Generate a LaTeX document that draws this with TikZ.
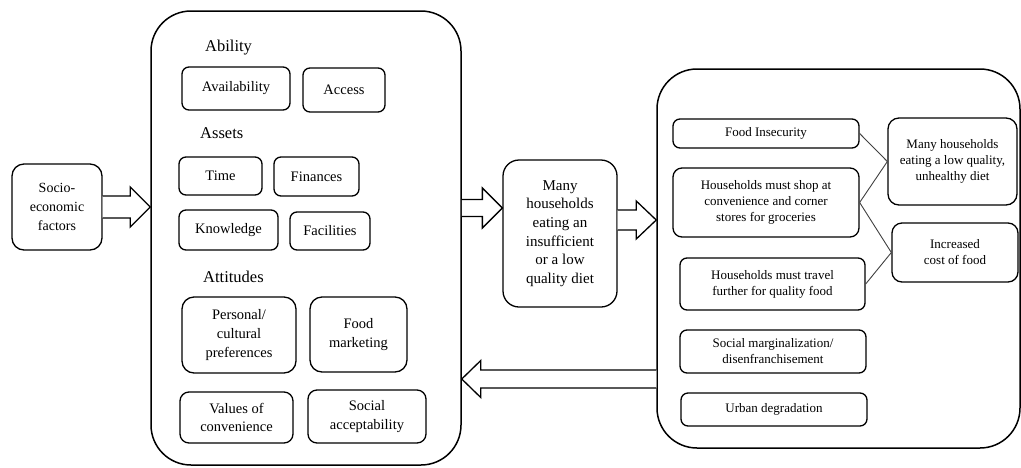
\documentclass[tikz,border=0pt]{standalone}
\usepackage{fontspec}
\setmainfont{Liberation Serif}
\usetikzlibrary{calc}
\newcommand{\harrow}[5]{%
  \draw[blockarrow] let \p1=#1, \p2=#2 in
    ({\x1},{\y1+#3}) -- ({\x2-(#5)},{\y1+#3}) -- ({\x2-(#5)},{\y1+#4}) -- ({\x2},{\y1})
    -- ({\x2-(#5)},{\y1-#4}) -- ({\x2-(#5)},{\y1-#3}) -- ({\x1},{\y1-#3});}
\tikzset{
  bigbox/.style={draw, line width=1.5pt, rounded corners=40pt, inner sep=0pt},
  box/.style={draw, line width=1.3pt, rounded corners=7pt, inner sep=0pt, align=center,
    font=\fontsize{14.5}{18.7}\selectfont},
  rbox/.style={draw, line width=1.3pt, rounded corners=7pt, inner sep=0pt, align=center,
    font=\fontsize{13}{16}\selectfont},
  heading/.style={anchor=west, inner sep=0pt, font=\fontsize{16.5}{20}\selectfont},
  blockarrow/.style={draw, fill=white, line width=1.3pt, line join=miter},
  conn/.style={draw=black!75, line width=0.9pt},
}
\begin{document}
\begin{tikzpicture}[x=1pt,y=-1pt]
\useasboundingbox (0,0) rectangle (1021,467);
% big containers
\node[bigbox, minimum width=310pt, minimum height=454pt] (left) at (306,238) {};
\node[bigbox, minimum width=363pt, minimum height=379pt] (right) at (838.5,258.5) {};
% socio-economic
\node[box, rounded corners=12pt, minimum width=90pt, minimum height=86pt,
  font=\fontsize{14}{19}\selectfont] (socio) at (57,207) {Socio-\\economic\\factors};
% middle
\node[box, rounded corners=16pt, minimum width=114pt, minimum height=147pt,
  font=\fontsize{15}{18.7}\selectfont] (mid) at (560,233.5)
  {Many\\households\\eating an\\insufficient\\or a low\\quality diet};
% arrows
\coordinate (a1s) at (socio.east);
\coordinate (a1e) at (left.west |- a1s);
\harrow{(a1s)}{(a1e)}{11pt}{20pt}{20pt}
\coordinate (a2s) at (left.east |- 0,208);
\coordinate (a2e) at (mid.west |- a2s);
\harrow{(a2s)}{(a2e)}{8.5pt}{20pt}{20pt}
\coordinate (a3s) at (mid.east |- 0,220);
\coordinate (a3e) at (right.west |- a3s);
\harrow{(a3s)}{(a3e)}{10pt}{19pt}{20pt}
\coordinate (a4s) at (right.west |- 0,379);
\coordinate (a4e) at (left.east |- a4s);
\harrow{(a4s)}{(a4e)}{9pt}{18.5pt}{-19pt}
% left contents
\node[heading] (hab) at (205,48) {Ability};
\node[box, minimum width=108pt, minimum height=43pt] (avail) at (236,88.5) {Availability};
\node[box, minimum width=82pt, minimum height=44pt] (access) at (344,90) {Access};
\node[heading] (has) at (200,133) {Assets};
\node[box, minimum width=83pt, minimum height=38pt] (time) at (220.5,176) {Time};
\node[box, minimum width=85pt, minimum height=39pt] (fin) at (316.5,176.5) {Finances};
\node[box, minimum width=99pt, minimum height=40pt] (know) at (228.5,230) {Knowledge};
\node[box, minimum width=80pt, minimum height=38pt] (facil) at (330,231) {Facilities};
\node[heading] (hat) at (203,277) {Attitudes};
\node[box, rounded corners=12pt, minimum width=114pt, minimum height=76pt] (pers) at (239,335)
  {Personal/\\cultural\\preferences};
\node[box, rounded corners=12pt, minimum width=97pt, minimum height=75pt] (market) at (358.5,334.5)
  {Food\\marketing};
\node[box, rounded corners=9pt, minimum width=113pt, minimum height=51pt] (values) at (236.5,417.5)
  {Values of\\convenience};
\node[box, rounded corners=9pt, minimum width=118pt, minimum height=53pt] (social) at (367,416.5)
  {Social\\acceptability};
% right contents
\node[rbox, minimum width=186pt, minimum height=29pt] (fi) at (766,133.5) {Food Insecurity};
\node[rbox, rounded corners=9pt, minimum width=186pt, minimum height=69pt] (shop) at (766,202.5)
  {Households must shop at\\convenience and corner\\stores for groceries};
\node[rbox, minimum width=185pt, minimum height=52pt] (travel) at (772.5,284)
  {Households must travel\\further for quality food};
\node[rbox, minimum width=186pt, minimum height=43pt] (marg) at (773,351.5)
  {Social marginalization/\\disenfranchisement};
\node[rbox, minimum width=186pt, minimum height=33pt] (urban) at (774,409.5) {Urban degradation};
\node[rbox, rounded corners=11pt, minimum width=129pt, minimum height=87pt] (many) at (952.5,161.5)
  {Many households\\eating a low quality,\\unhealthy diet};
\node[rbox, rounded corners=10pt, minimum width=126pt, minimum height=59pt] (incr) at (955,252.5)
  {Increased\\cost of food};
% connectors
\draw[conn] (fi.east) -- (many.west);
\draw[conn] (shop.east) -- (many.west);
\draw[conn] (shop.east) -- (incr.west);
\draw[conn] (travel.east) -- (incr.west);
\end{tikzpicture}
\end{document}
